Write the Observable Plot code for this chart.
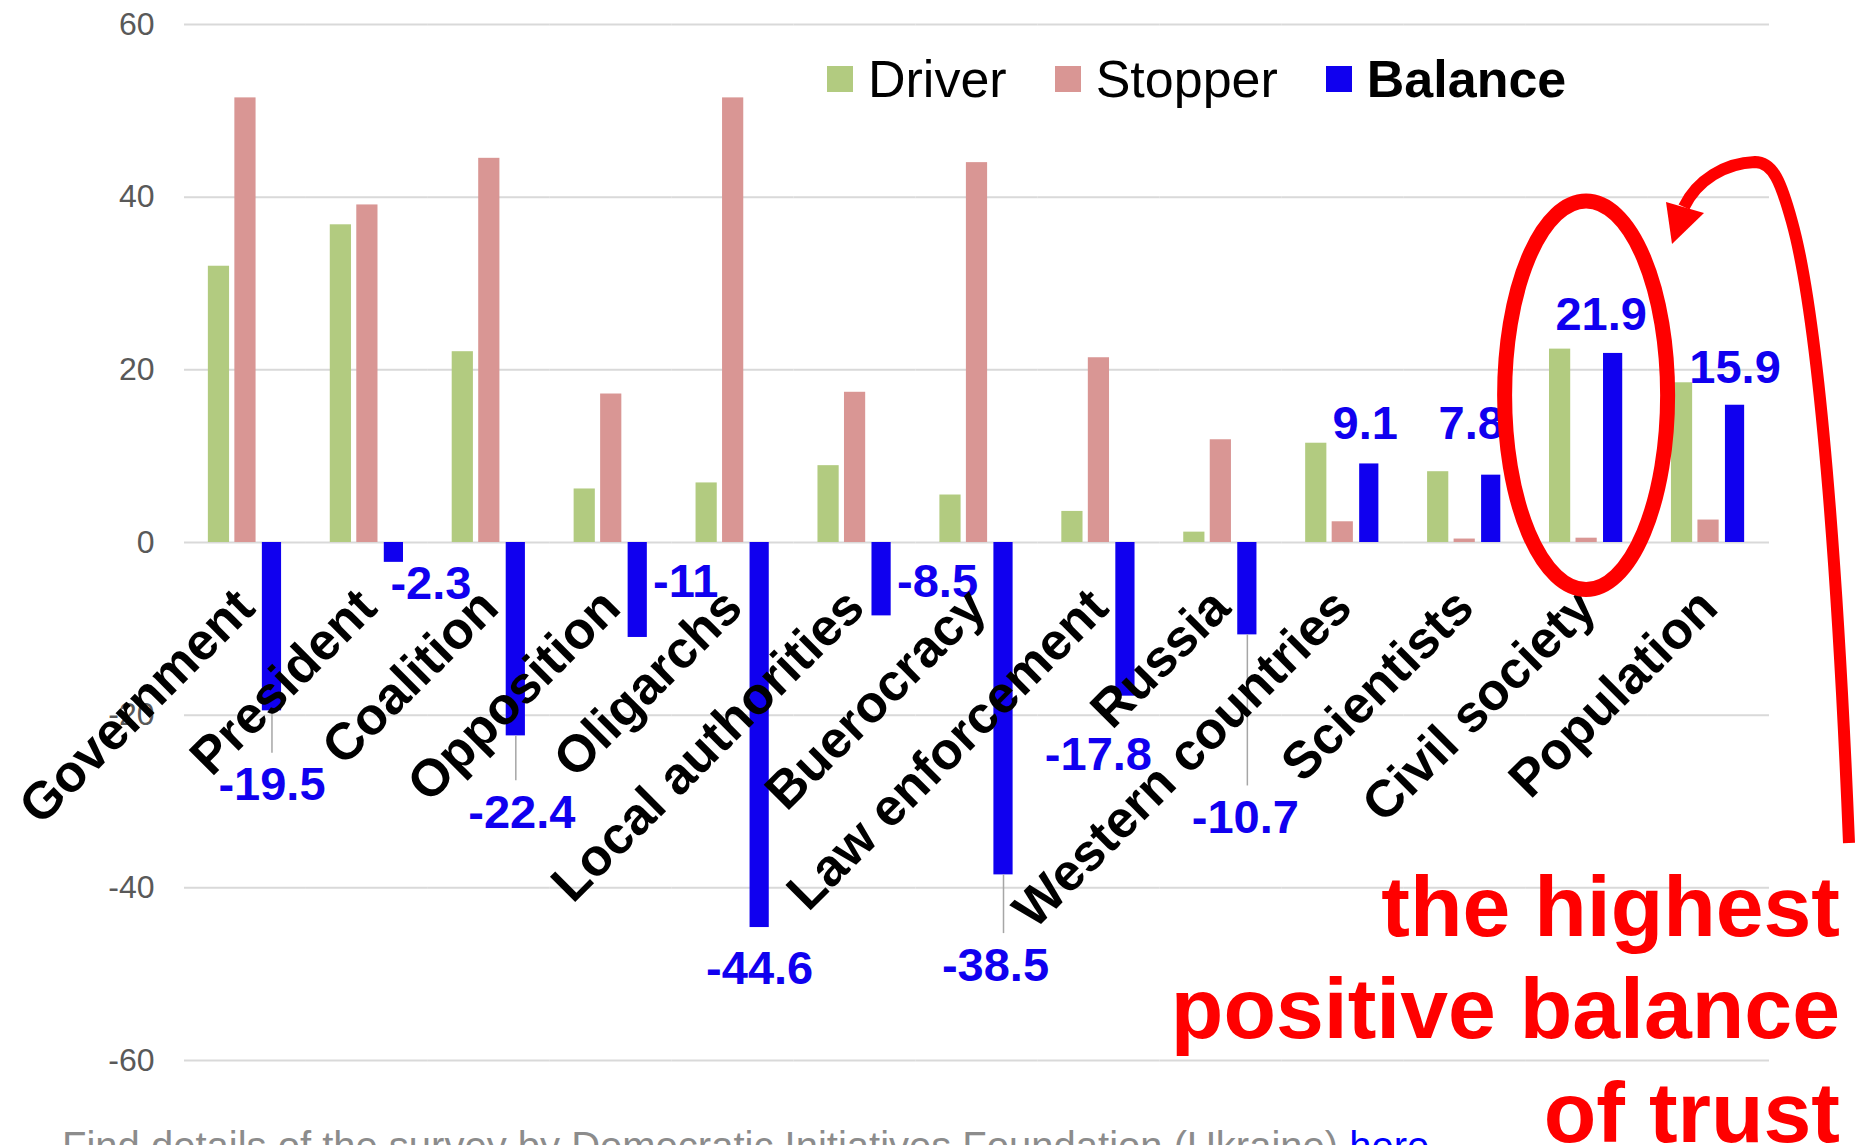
<!DOCTYPE html>
<html>
<head>
<meta charset="utf-8">
<script src="https://cdn.jsdelivr.net/npm/d3@7"></script>
<script src="https://cdn.jsdelivr.net/npm/@observablehq/plot@0.6"></script>
<style>
html, body { margin: 0; padding: 0; overflow: hidden; background: #fff; }
#wrap { position: relative; width: 1861px; height: 1145px; overflow: hidden; font-family: "Liberation Sans", Arial, Helvetica, sans-serif; }
#chart { position: absolute; left: 0; top: 0; }
.legend { position: absolute; left: 827px; top: 53px; display: flex; align-items: center; font-size: 52px; line-height: 52px; color: #000; white-space: nowrap; }
.legend .item { display: flex; align-items: center; margin-right: 48px; }
.legend .sw { width: 26px; height: 26px; margin-right: 15px; }
.caption { position: absolute; left: 62px; top: 1126px; font-size: 40px; line-height: 40px; color: #8c8c8c; white-space: nowrap; }
.caption a { color: #0000ff; text-decoration: none; }
#overlay { position: absolute; left: 0; top: 0; pointer-events: none; }
</style>
</head>
<body>
<div id="wrap">
  <div id="chart"></div>
  <div class="legend" id="legend"></div>
  <div class="caption">Find details of the survey by Democratic Initiatives Foundation (Ukraine) <a href="#">here</a></div>
</div>
<script>
// ---------- data ----------
const categories = ["Government", "President", "Coalition", "Opposition", "Oligarchs", "Local authorities", "Buerocracy", "Law enforcement", "Russia", "Western countries", "Scientists", "Civil society", "Population"];
const series = ["Driver", "Stopper", "Balance"];
const driver  = [32.0, 36.8, 22.1, 6.2, 6.9, 8.9, 5.5, 3.6, 1.2, 11.5, 8.2, 22.4, 18.5];
const stopper = [51.5, 39.1, 44.5, 17.2, 51.5, 17.4, 44.0, 21.4, 11.9, 2.4, 0.4, 0.5, 2.6];
const balance = [-19.5, -2.3, -22.4, -11, -44.6, -8.5, -38.5, -17.8, -10.7, 9.1, 7.8, 21.9, 15.9];
const yTicks = [-60, -40, -20, 0, 20, 40, 60];

// ---------- layout of the balance callouts (not data) ----------
const calloutY = [-28.1, -4.8, -31.3, -4.6, -49.4, -4.6, -49.0, -24.6, -31.9, 13.7, 13.7, 26.3, 20.2];
const calloutDx = [0, 37, 6, 48, 0, 56, -8, -27, -2, -4, -20, -12, 0];
const calloutLeader = [true, false, true, false, false, false, true, false, true, false, false, false, false];

const colors = {Driver: "#b2cb80", Stopper: "#d99694", Balance: "#1000ef"};
const font = "'Liberation Sans', Arial, Helvetica, sans-serif";

const rows = categories.flatMap((c, i) => [
  {category: c, series: "Driver", value: driver[i]},
  {category: c, series: "Stopper", value: stopper[i]},
  {category: c, series: "Balance", value: balance[i]}
]);
const balanceRows = categories.map((c, i) => ({
  category: c, series: "Balance", value: balance[i],
  labelY: calloutY[i], dx: calloutDx[i], leader: calloutLeader[i]
}));

const W = 1861, H = 1145;

const plot = Plot.plot({
  width: W,
  height: H,
  marginLeft: 184,
  marginRight: 92,
  marginTop: 24,
  marginBottom: 85,
  style: {fontFamily: font, fontSize: "32px", color: "#595959", background: "white", overflow: "visible"},
  fx: {domain: categories, paddingInner: 0, paddingOuter: 0, round: false, axis: null, label: null},
  x: {domain: series, paddingInner: 0.2, paddingOuter: 0.9, round: false, axis: null, label: null},
  y: {domain: [-60, 60], ticks: yTicks, tickSize: 0, tickPadding: 30, tickFormat: d => String(d), label: null},
  color: {domain: series, range: series.map(s => colors[s])},
  marks: [
    Plot.ruleY(yTicks, {stroke: "#d9d9d9", strokeWidth: 2}),
    Plot.barY(rows.filter(d => d.series !== "Balance"), {fx: "category", x: "series", y: "value", fill: "series"}),
    Plot.barY(rows.filter(d => d.series === "Balance"), {fx: "category", x: "series", y: "value", fill: "series", insetLeft: 1, insetRight: 1}),
    Plot.ruleX(balanceRows.filter(d => d.leader), {fx: "category", x: "series", y1: "value", y2: d => d.labelY + 3.7, stroke: "#a6a6a6", strokeWidth: 1.5}),
    ...balanceRows.map(d => Plot.text([d], {
      fx: "category", x: "series", y: "labelY", text: d => String(d.value),
      dx: d.dx, fill: colors.Balance, fontSize: 47, fontWeight: "bold", lineAnchor: "middle"
    })),
    Plot.text(categories, {
      fx: d => d, y: () => 0, text: d => d, rotate: -45, textAnchor: "end", lineAnchor: "middle",
      dy: 56, dx: 0, fontSize: 52, fontWeight: "bold", fill: "#000"
    })
  ]
});
document.getElementById("chart").appendChild(plot);

// ---------- legend ----------
const legend = document.getElementById("legend");
series.forEach(s => {
  const item = document.createElement("div");
  item.className = "item";
  const sw = document.createElement("span");
  sw.className = "sw";
  sw.style.background = colors[s];
  const t = document.createElement("span");
  t.textContent = s;
  if (s === "Balance") t.style.fontWeight = "bold";
  item.appendChild(sw); item.appendChild(t);
  legend.appendChild(item);
});

// ---------- annotation overlay ----------
const fxS = plot.scale("fx");
const yS = plot.scale("y");
const cx = fxS.apply("Civil society") + fxS.bandwidth / 2;
const cy = yS.apply(17);
const ry = yS.apply(-5.5) - yS.apply(39.5);

const svg = d3.select("#wrap").append("svg")
  .attr("id", "overlay").attr("width", W).attr("height", H);
svg.append("ellipse")
  .attr("cx", cx).attr("cy", cy).attr("rx", 81.5).attr("ry", ry / 2)
  .attr("fill", "none").attr("stroke", "#ff0000").attr("stroke-width", 15);
svg.append("path")
  .attr("d", "M1849,843 C1840,620 1822,330 1792,222 C1781,182 1773,162 1755,162 C1725,163 1697,180 1684,207")
  .attr("fill", "none").attr("stroke", "#ff0000").attr("stroke-width", 12);
svg.append("polygon")
  .attr("points", "1666,202 1704,213 1672,244")
  .attr("fill", "#ff0000");
const lines = ["the highest", "positive balance", "of trust"];
const baselines = [936, 1038, 1142];
lines.forEach((l, i) => {
  svg.append("text")
    .attr("x", 1840).attr("y", baselines[i])
    .attr("text-anchor", "end")
    .attr("font-family", font).attr("font-weight", "bold").attr("font-size", 86)
    .attr("fill", "#ff0000")
    .text(l);
});
</script>
</body>
</html>
